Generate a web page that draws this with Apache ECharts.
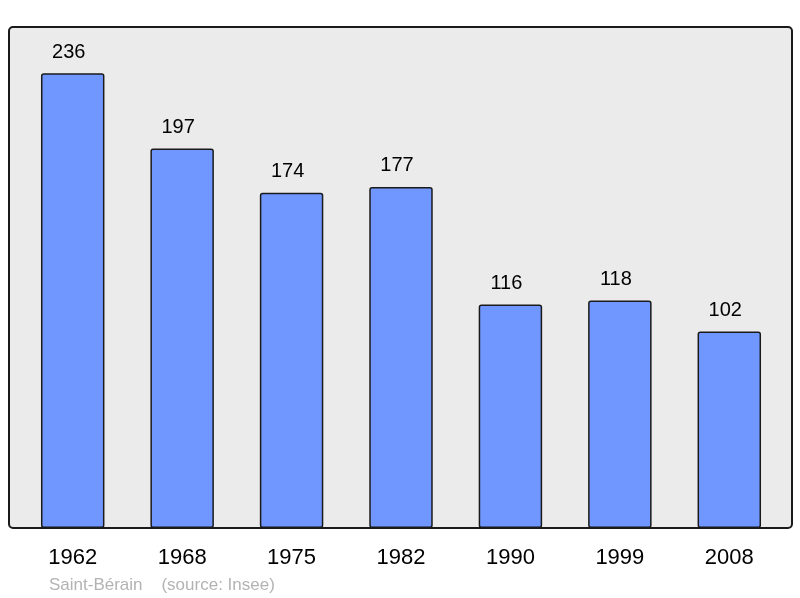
<!DOCTYPE html>
<html>
<head>
<meta charset="utf-8">
<script src="https://cdn.jsdelivr.net/npm/echarts@6/dist/echarts.min.js"></script>
<style>
  html, body { margin: 0; padding: 0; background: #fff; }
  #chart { width: 800px; height: 598px; }
</style>
</head>
<body>
<div id="chart"></div>
<script>
const years = ["1962", "1968", "1975", "1982", "1990", "1999", "2008"];
const population = [236, 197, 174, 177, 116, 118, 102];
const footerText = "Saint-Bérain    (source: Insee)";

const chart = echarts.init(document.getElementById("chart"));

chart.setOption({
  animation: false,
  graphic: [
    {
      type: "rect",
      z: -10,
      shape: { x: 9, y: 27, width: 783, height: 501, r: 4 },
      style: { fill: "#ebebeb", stroke: "#1a1a1a", lineWidth: 2 },
    },
    {
      type: "text",
      left: 49,
      top: 577,
      style: {
        text: footerText,
        fill: "#b3b3b3",
        font: "17px 'Liberation Sans', Arial, sans-serif",
      },
    },
  ],
  grid: { left: 18, right: 16, top: 27, bottom: 70 },
  xAxis: {
    type: "category",
    data: years,
    axisLine: { show: false },
    axisTick: { show: false },
    axisLabel: {
      margin: 19,
      color: "#000",
      fontSize: 22,
      fontFamily: "Liberation Sans",
    },
  },
  yAxis: {
    type: "value",
    min: 0,
    max: 260,
    show: false,
  },
  series: [
    {
      type: "bar",
      data: population,
      barWidth: "58%",
      itemStyle: {
        color: "#7096ff",
        borderColor: "#1a1a1a",
        borderWidth: 1.5,
        borderRadius: 2,
      },
      label: {
        show: true,
        position: "top",
        distance: 11,
        offset: [-4, 0],
        color: "#000",
        fontSize: 20,
        fontFamily: "Liberation Sans",
      },
    },
  ],
});
</script>
</body>
</html>
